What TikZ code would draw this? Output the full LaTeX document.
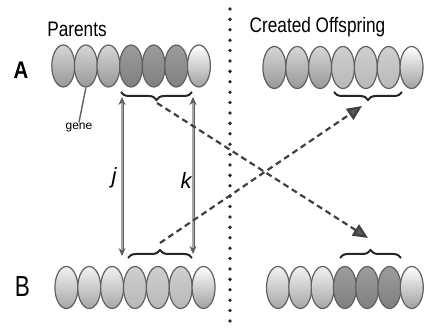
\documentclass[tikz,border=0pt]{standalone}
\usepackage{fontspec}
\setmainfont{Liberation Sans}
\usetikzlibrary{shapes.geometric,arrows.meta,decorations.pathreplacing}
\definecolor{outl}{HTML}{606060}
\definecolor{gAt}{HTML}{D6D6D6}
\definecolor{gAb}{HTML}{989898}
\definecolor{dkt}{HTML}{9C9C9C}
\definecolor{dkb}{HTML}{808080}
\definecolor{gBt}{HTML}{F2F2F2}
\definecolor{gBb}{HTML}{A6A6A6}
\definecolor{mdt}{HTML}{CFCFCF}
\definecolor{mdb}{HTML}{B8B8B8}
\definecolor{hlt}{HTML}{FFFFFF}
\definecolor{hlb}{HTML}{A0A0A0}
\definecolor{dashc}{HTML}{404040}
\definecolor{tipc}{HTML}{5A5A5A}
\definecolor{dotc}{HTML}{2A2A2A}
\definecolor{vertc}{HTML}{5E5E5E}
\definecolor{vertin}{HTML}{A8A8A8}
\begin{document}
\begin{tikzpicture}[x=1pt,y=-1pt,
  gene/.style={ellipse,draw=outl,line width=1.2pt,minimum width=23pt,minimum height=42pt,inner sep=0pt},
  lbl/.style={font=\fontsize{21}{21}\selectfont,anchor=base,inner sep=0pt},
  brc/.style={draw=black!85,line width=2pt,decorate,decoration={brace,amplitude=8pt}},
  vert/.style={draw=vertc,double=vertin,double distance=1.2pt,line width=0.9pt,{Stealth[length=8pt,width=7pt,fill=vertc]}-{Stealth[length=8pt,width=7pt,fill=vertc]}},
  dasharrow/.style={draw=dashc,line width=2.2pt,dash pattern=on 6pt off 4pt,-{Triangle[length=15pt,width=13pt,fill=tipc]}},
  dotline/.style={draw=dotc,line width=3.8pt,line cap=round,dash pattern=on 0pt off 10.4pt}
]
\useasboundingbox (0,0) rectangle (424,328);

% dotted divider
\coordinate (dtop) at (230,9);
\coordinate (dbot) at (230,326);
\draw[dotline] (dtop) -- (dbot);

% parent A
\foreach \i/\t/\b in {1/gAt/gAb,2/gAt/gAb,3/gAt/gAb,4/dkt/dkb,5/dkt/dkb,6/dkt/dkb,7/hlt/hlb}{
  \node[gene,top color=\t,bottom color=\b] (pa\i) at ({63.3+22.6*(\i-1)},66) {};
}
% parent B
\foreach \i/\t/\b in {1/gBt/gBb,2/gBt/gBb,3/gBt/gBb,4/mdt/mdb,5/mdt/mdb,6/mdt/mdb,7/hlt/hlb}{
  \node[gene,top color=\t,bottom color=\b] (pb\i) at ({66.4+22.86*(\i-1)},287.5) {};
}
% offspring top
\foreach \i/\t/\b in {1/gAt/gAb,2/gAt/gAb,3/gAt/gAb,4/mdt/mdb,5/mdt/mdb,6/mdt/mdb,7/hlt/hlb}{
  \node[gene,top color=\t,bottom color=\b] (oa\i) at ({274.4+22.86*(\i-1)},67.5) {};
}
% offspring bottom
\foreach \i/\t/\b in {1/gBt/gBb,2/gBt/gBb,3/gBt/gBb,4/dkt/dkb,5/dkt/dkb,6/dkt/dkb,7/hlt/hlb}{
  \node[gene,top color=\t,bottom color=\b] (ob\i) at ({278+22.3*(\i-1)},287.5) {};
}

% labels
\node[lbl] (par) at (77,37) {\scalebox{0.82}[1]{Parents}};
\node[lbl] (off) at (317.5,33) {\scalebox{0.82}[1]{Created Offspring}};
\node[lbl,font=\fontsize{24}{24}\selectfont\bfseries] (la) at (21,79) {\scalebox{0.85}[1]{A}};
\node[lbl,font=\fontsize{29}{29}\selectfont] (lb) at (22.5,297) {\scalebox{0.78}[1]{B}};
\node[font=\fontsize{12}{12}\selectfont,inner sep=1pt] (genel) at (79,128) {gene};
\draw[draw=outl,line width=1.4pt] (pa2.south) -- (genel.north);

% braces
\coordinate (baR) at (192,92);
\coordinate (baL) at (121,92);
\draw[brc] (baR) -- (baL);
\coordinate (bbL) at (128,258);
\coordinate (bbR) at (192,258);
\draw[brc] (bbL) -- (bbR);
\coordinate (boaR) at (402,92);
\coordinate (boaL) at (334,92);
\draw[brc] (boaR) -- (boaL);
\coordinate (bobL) at (340,258);
\coordinate (bobR) at (401,258);
\draw[brc] (bobL) -- (bobR);

% vertical arrows j, k
\coordinate (jt) at (122,97);
\coordinate (jb) at (122,256);
\coordinate (kt) at (193,97);
\coordinate (kb) at (193,254);
\draw[vert] (jt) -- (jb);
\draw[vert] (kt) -- (kb);
\node[font=\fontsize{22}{22}\selectfont\itshape,inner sep=0pt] (jl) at (114,178) {j};
\node[font=\fontsize{22}{22}\selectfont\itshape,inner sep=0pt] (kl) at (186,181) {k};

% crossing dashed arrows
\coordinate (ta) at (157,103);
\coordinate (hb) at (368,238);
\coordinate (tb) at (160,243);
\coordinate (ha) at (362,106);
\draw[dasharrow] (ta) -- (hb);
\draw[dasharrow] (tb) -- (ha);
\end{tikzpicture}
\end{document}
